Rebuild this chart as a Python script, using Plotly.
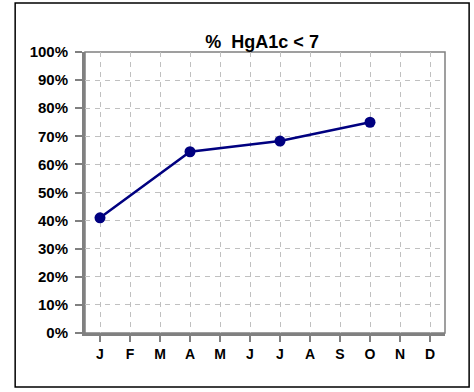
import plotly.graph_objects as go

months = ["J", "F", "M", "A", "M", "J", "J", "A", "S", "O", "N", "D"]
x_idx = list(range(12))
pct_values = [0.41, None, None, 0.645, None, None, 0.683, None, None, 0.75, None, None]
y_ticks = [i / 10 for i in range(11)]
y_labels = [f"{i * 10}%" for i in range(11)]

GRID = "#c0c0c0"
AXIS = "#808080"
NAVY = "#000080"

fig = go.Figure(go.Scatter(
    x=x_idx,
    y=pct_values,
    mode="lines+markers",
    connectgaps=True,
    line={"color": NAVY, "width": 2.5},
    marker={"color": NAVY, "size": 11},
    hoverinfo="skip",
))

fig.update_layout(
    width=474,
    height=392,
    margin=dict(l=85, r=29, t=52, b=59),
    paper_bgcolor="white",
    plot_bgcolor="white",
    showlegend=False,
    font={"family": "Arial, Liberation Sans", "color": "black"},
    title={
        "text": "<b>%  HgA1c < 7</b>",
        "x": 0.553,
        "xanchor": "center",
        "y": 0.893,
        "yanchor": "middle",
        "font": {"size": 18, "color": "black"},
    },
    xaxis={
        "range": [-0.5, 11.5],
        "tickvals": x_idx,
        "ticktext": months,
        "tickfont": {"size": 14, "weight": "bold"},
        "showgrid": True,
        "gridcolor": GRID,
        "griddash": "5px,5px",
        "gridwidth": 1,
        "showline": True,
        "linecolor": AXIS,
        "linewidth": 3,
        "ticks": "outside",
        "ticklen": 6,
        "tickwidth": 2,
        "tickcolor": AXIS,
        "zeroline": False,
        "fixedrange": True,
    },
    yaxis={
        "range": [0, 1],
        "tickvals": y_ticks,
        "ticktext": y_labels,
        "tickfont": {"size": 15, "weight": "bold"},
        "ticklabelstandoff": 4,
        "showgrid": True,
        "gridcolor": GRID,
        "griddash": "5px,5px",
        "gridwidth": 1,
        "showline": True,
        "linecolor": AXIS,
        "linewidth": 3,
        "ticks": "outside",
        "ticklen": 7,
        "tickwidth": 2,
        "tickcolor": AXIS,
        "zeroline": False,
        "fixedrange": True,
    },
    shapes=[
        # thin frame on top/right of the plot area
        dict(type="rect", xref="paper", yref="paper", x0=0, x1=1, y0=0, y1=1,
             line={"color": AXIS, "width": 1.5}, layer="below"),
        # outer chart border
        dict(type="rect", xref="paper", yref="paper",
             x0=-0.194, x1=1.067, y0=-0.192, y1=1.174,
             line={"color": "black", "width": 1.5}),
    ],
)

# drop the browser's default page margin so the figure sits at the window corner
fig.write_html(
    "out.html",
    config={"displayModeBar": False},
    post_script="document.body.style.margin='0';",
)
